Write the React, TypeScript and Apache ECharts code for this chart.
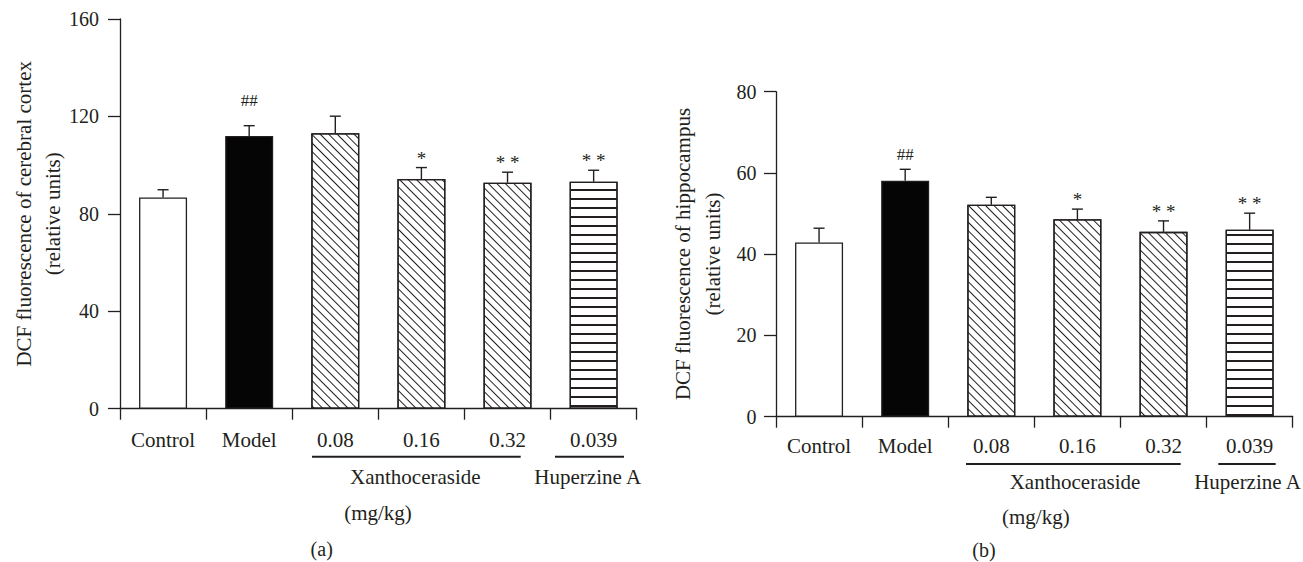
import React, { useEffect, useRef } from "react";
import * as echarts from "echarts";

const categories = ["Control", "Model", "0.08", "0.16", "0.32", "0.039"];
const cortexMeans = [86.7, 112.0, 113.1, 94.3, 92.8, 93.2];
const cortexErrors = [3.2, 4.2, 7.0, 4.7, 4.3, 4.7];
const cortexMarks = ["", "##", "", "*", "* *", "* *"];
const hippoMeans = [42.9, 58.1, 52.2, 48.6, 45.5, 46.0];
const hippoErrors = [3.5, 2.8, 1.8, 2.5, 2.7, 4.1];
const hippoMarks = ["", "##", "", "*", "* *", "* *"];
const cortexAxis = { min: 0, max: 160, interval: 40 };
const hippoAxis = { min: 0, max: 80, interval: 20 };
const fillKinds = ["white", "black", "hatch", "hatch", "hatch", "stripe"];

const INK = "#231f20";
const FONT = "Liberation Serif";

function itemStyleFor(kind: string) {
  const base: any = { borderColor: INK, borderWidth: 1.3 };
  if (kind === "white") return { ...base, color: "#ffffff" };
  if (kind === "black") return { ...base, color: "#050505" };
  if (kind === "hatch")
    return {
      ...base,
      color: "#ffffff",
      decal: {
        symbol: "rect",
        symbolSize: 1,
        dashArrayX: [1, 0],
        dashArrayY: [1, 4.2],
        rotation: Math.PI / 4,
        color: INK,
        backgroundColor: "#ffffff",
      },
    };
  return {
    ...base,
    color: "#ffffff",
    decal: {
      symbol: "rect",
      symbolSize: 1,
      dashArrayX: [1, 0],
      dashArrayY: [1.2, 6.3],
      rotation: 0,
      color: INK,
      backgroundColor: "#ffffff",
    },
  };
}

function barSeries(means: number[], idx: number) {
  return {
    type: "bar",
    xAxisIndex: idx,
    yAxisIndex: idx,
    barWidth: 48,
    z: 2,
    data: means.map((v, i) => ({ value: v, itemStyle: itemStyleFor(fillKinds[i]) })),
  };
}

function errorSeries(means: number[], errors: number[], marks: string[], idx: number, hashGap: number) {
  return {
    type: "custom",
    xAxisIndex: idx,
    yAxisIndex: idx,
    z: 5,
    clip: false,
    data: means.map((v, i) => [i, v, errors[i]]),
    renderItem: (params: any, api: any) => {
      const i = api.value(0);
      const v = api.value(1);
      const e = api.value(2);
      const base = api.coord([i, v]);
      const top = api.coord([i, v + e]);
      const mark = marks[params.dataIndex];
      const children: any[] = [
        {
          type: "line",
          shape: { x1: base[0], y1: base[1], x2: top[0], y2: top[1] },
          style: { stroke: INK, lineWidth: 1.4 },
        },
        {
          type: "line",
          shape: { x1: top[0] - 5.5, y1: top[1], x2: top[0] + 5.5, y2: top[1] },
          style: { stroke: INK, lineWidth: 1.4 },
        },
      ];
      if (mark) {
        const isHash = mark.indexOf("#") >= 0;
        children.push({
          type: "text",
          x: top[0],
          y: top[1] - (isHash ? hashGap : 0),
          style: {
            text: mark,
            fill: INK,
            fontFamily: FONT,
            fontSize: isHash ? 17 : 19,
            align: "center",
            verticalAlign: "bottom",
          },
        });
      }
      return { type: "group", children };
    },
  };
}

function xAxisFor(idx: number) {
  return {
    type: "category",
    gridIndex: idx,
    data: categories,
    axisLine: { lineStyle: { color: INK, width: 1.3 } },
    axisTick: { show: true, length: 11, lineStyle: { color: INK, width: 1.3 } },
    axisLabel: {
      color: INK,
      fontFamily: FONT,
      fontSize: 21,
      lineHeight: 21,
      margin: idx === 0 ? 21 : 19,
      interval: 0,
    },
  };
}

function yAxisFor(idx: number, cfg: any) {
  return {
    type: "value",
    gridIndex: idx,
    min: cfg.min,
    max: cfg.max,
    interval: cfg.interval,
    splitLine: { show: false },
    axisLine: { show: true, lineStyle: { color: INK, width: 1.3 } },
    axisTick: { show: true, length: 12, lineStyle: { color: INK, width: 1.3 } },
    axisLabel: { color: INK, fontFamily: FONT, fontSize: 20, margin: idx === 0 ? 21 : 19.5 },
  };
}

function txt(x: number, y: number, text: string, size = 21, rotation = 0) {
  return {
    type: "text",
    x,
    y,
    rotation,
    style: {
      text,
      fill: INK,
      fontFamily: FONT,
      fontSize: size,
      align: "center",
      verticalAlign: "middle",
    },
  };
}

function uline(x1: number, x2: number, y: number) {
  return { type: "line", shape: { x1, y1: y, x2, y2: y }, style: { stroke: INK, lineWidth: 2 } };
}

export default function App() {
  const ref = useRef<HTMLDivElement>(null);
  useEffect(() => {
    if (!ref.current) return;
    const chart = echarts.init(ref.current, undefined, { renderer: "svg" });
    const R = Math.PI / 2;
    chart.setOption({
      animation: false,
      backgroundColor: "#ffffff",
      grid: [
        { left: 120, top: 19, width: 516.7, height: 389.7, outerBoundsMode: "none", containLabel: false },
        { left: 776, top: 91.7, width: 516.7, height: 325, outerBoundsMode: "none", containLabel: false },
      ],
      xAxis: [xAxisFor(0), xAxisFor(1)],
      yAxis: [yAxisFor(0, cortexAxis), yAxisFor(1, hippoAxis)],
      series: [
        barSeries(cortexMeans, 0),
        errorSeries(cortexMeans, cortexErrors, cortexMarks, 0, 17),
        barSeries(hippoMeans, 1),
        errorSeries(hippoMeans, hippoErrors, hippoMarks, 1, 6),
      ],
      graphic: [
        txt(24, 213.8, "DCF fluorescence of cerebral cortex", 21, R),
        txt(53, 213.8, "(relative units)", 21, R),
        txt(683, 254, "DCF fluorescence of hippocampus", 21, R),
        txt(713, 254, "(relative units)", 21, R),
        uline(312, 520.7, 456.7),
        uline(555, 624, 456.7),
        txt(415.3, 477.3, "Xanthoceraside"),
        txt(587.7, 477.3, "Huperzine A"),
        txt(378, 513, "(mg/kg)"),
        txt(321.7, 549, "(a)", 20),
        uline(966, 1180.7, 464),
        uline(1218.3, 1275.7, 464),
        txt(1075, 481.6, "Xanthoceraside"),
        txt(1247.5, 481.6, "Huperzine A"),
        txt(1035.8, 516.5, "(mg/kg)"),
        txt(984, 549.5, "(b)", 20),
      ],
    });
    return () => chart.dispose();
  }, []);
  return (
    <div
      ref={ref}
      style={{ position: "absolute", left: 0, top: 0, width: 1303, height: 562, background: "#fff" }}
    />
  );
}
